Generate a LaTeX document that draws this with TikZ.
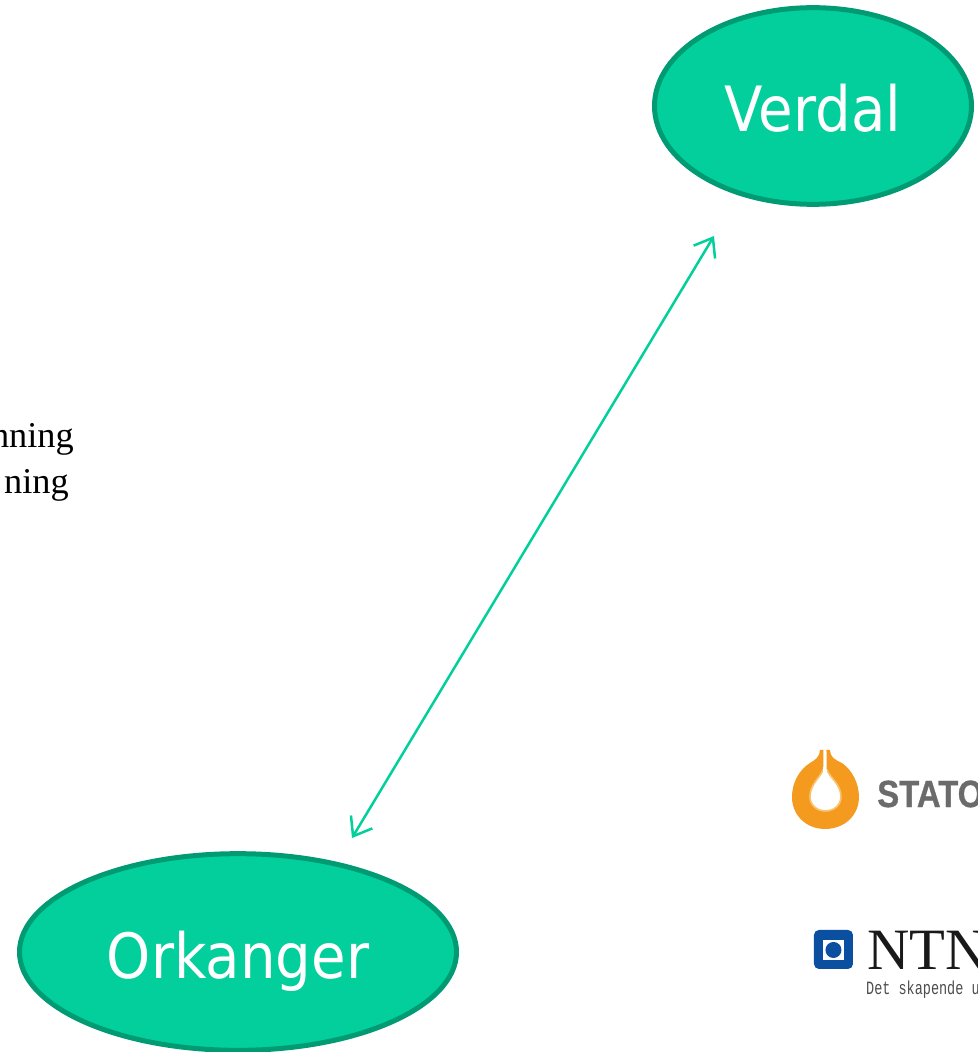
\documentclass[tikz,border=0pt]{standalone}
\usepackage{xcolor}
\usepackage{fontspec}
\setmainfont{Liberation Serif}
\newfontfamily\cityfont[FakeStretch=0.9]{DejaVu Sans}
\newfontfamily\statfont[FakeStretch=0.87,FakeBold=0.8]{Liberation Sans Bold}
\newfontfamily\tagfont[FakeStretch=0.72]{Liberation Mono}
\usetikzlibrary{shapes.geometric, arrows.meta}
\definecolor{cityfill}{HTML}{02CF9B}
\definecolor{cityline}{HTML}{009A73}
\definecolor{dropor}{HTML}{F39A1F}
\definecolor{droplight}{HTML}{F9C36E}
\definecolor{ntnublue}{HTML}{0A4FA0}
\tikzstyle{city} = [ellipse, minimum height=5.9cm, inner sep=0pt, text centered, text height=1.8cm, text depth=0.24cm, line width=0.15cm, draw=cityline, fill=cityfill, text=white, font=\cityfont\fontsize{53.3}{60}\selectfont]
\tikzstyle{arrow} = [line width=0.075cm, draw=cityfill, {Straight Barb[length=0.5cm,width=0.75cm]}-{Straight Barb[length=0.5cm,width=0.75cm]}]
\tikzstyle{note} = [anchor=base east, inner sep=0pt, font=\fontsize{31}{36}\selectfont]

\begin{document}
\begin{tikzpicture}
\useasboundingbox (0,0) rectangle (29.34,-31.56);

\node (verdal) [city, minimum width=9.51cm, xshift=24.39cm, yshift=-3.18cm] {Verdal};
\node (orkanger) [city, minimum width=13.11cm, xshift=7.14cm, yshift=-28.56cm] {Orkanger};

\coordinate (upper) at (21.42,-7.08);
\coordinate (lower) at (10.56,-25.14);
\draw [arrow] (lower) -- (upper);

\node (note1) [note] at (2.22,-13.41) {nning};
\node (note2) [note] at (2.07,-14.79) {ning};

% logos
\begin{scope}[x=0.03cm,y=-0.03cm]
\fill [dropor] (820,750) .. controls (820,757) and (815,760) .. (810,763)
  .. controls (799,770) and (792,783) .. (792,797)
  .. controls (792,815) and (806,829) .. (825,829)
  .. controls (845,829) and (859,815) .. (859,797)
  .. controls (859,783) and (852,770) .. (842,763)
  .. controls (835,760) and (830,757) .. (830,750) -- cycle;
\filldraw [fill=white, draw=droplight, line width=0.05cm] (823,770) .. controls (820,778) and (810,784) .. (810,797)
  .. controls (810,805) and (817,811) .. (825.5,811)
  .. controls (834,811) and (841,805) .. (841,797)
  .. controls (841,784) and (830,778) .. (827,770) -- cycle;
\fill [white] (823.5,750) -- (826.5,750) -- (826.8,772) -- (823.2,772) -- cycle;
\fill [ntnublue, rounded corners=0.15cm] (814,930) rectangle (853,969);
\fill [white] (823,940) rectangle (844,960);
\fill [ntnublue] (833.5,950) circle (8);
\end{scope}
\node (statoil) [anchor=base west, inner sep=0pt, text=black!58, font=\statfont\fontsize{32.3}{36}\selectfont] at (26.31,-24.21) {STATO};
\node (ntnu) [anchor=base west, inner sep=0pt, text=black!90, font=\fontsize{50}{56}\selectfont] at (26.01,-29.07) {NTN};
\node (tagline) [anchor=base west, inner sep=0pt, text=black!70, font=\tagfont\fontsize{16}{18}\selectfont] at (25.98,-29.82) {Det skapende u};
\end{tikzpicture}
\end{document}
